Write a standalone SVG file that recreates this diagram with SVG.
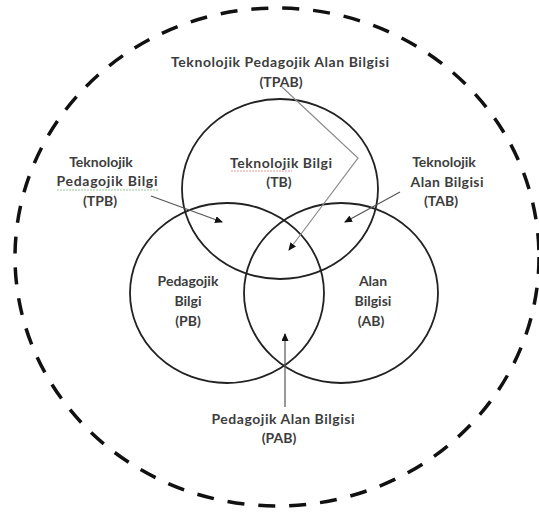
<svg xmlns="http://www.w3.org/2000/svg" width="539" height="512" viewBox="0 0 539 512">
<style>
.bg{fill:#ffffff}
.outer{fill:none;stroke:#111;stroke-width:3.5;stroke-dasharray:17 14}
.c{fill:none;stroke:#222;stroke-width:1.8}
.t{font-family:Lato,"Liberation Sans",sans-serif;font-weight:700;font-size:14px;fill:#3d3d3d;text-anchor:middle}
.a{fill:none;stroke:#555;stroke-width:1.2}
.a2{fill:none;stroke:#8a8a8a;stroke-width:1.2}
</style>
<defs>
<marker id="ah" markerUnits="userSpaceOnUse" markerWidth="8" markerHeight="7" refX="7" refY="3.5" orient="auto"><path d="M0,0 L8,3.5 L0,7 z" fill="#111"/></marker>
</defs>
<rect class="bg" x="0" y="0" width="539" height="512"/>
<g id="outer"><ellipse class="outer" cx="277" cy="257" rx="262" ry="249"/></g>
<g id="tb"><ellipse class="c" cx="280" cy="189" rx="98" ry="90"/>
<text class="t" x="281" y="168" textLength="102" lengthAdjust="spacing">Teknolojik Bilgi</text>
<line x1="231" y1="171" x2="292" y2="171" stroke="#e89a9a" stroke-width="1" stroke-dasharray="2 1"/>
<text class="t" x="279" y="187">(TB)</text></g>
<g id="pb"><ellipse class="c" cx="227" cy="293" rx="97" ry="90"/>
<text class="t" x="188" y="286">Pedagojik</text>
<text class="t" x="188" y="306">Bilgi</text>
<text class="t" x="188" y="326">(PB)</text></g>
<g id="ab"><ellipse class="c" cx="341" cy="293" rx="97" ry="90"/>
<text class="t" x="373" y="286">Alan</text>
<text class="t" x="373" y="306">Bilgisi</text>
<text class="t" x="371" y="326">(AB)</text></g>
<g id="tpab"><text class="t" x="280" y="67" textLength="218" lengthAdjust="spacing">Teknolojik Pedagojik Alan Bilgisi</text>
<text class="t" x="281" y="87">(TPAB)</text></g>
<g id="tpb"><text class="t" x="101" y="167">Teknolojik</text>
<text class="t" x="107" y="186" textLength="101" lengthAdjust="spacing">Pedagojik Bilgi</text>
<line x1="57" y1="190" x2="158" y2="190" stroke="#9ac79a" stroke-width="1" stroke-dasharray="2 1"/>
<text class="t" x="100" y="206">(TPB)</text></g>
<g id="tab"><text class="t" x="444" y="167">Teknolojik</text>
<text class="t" x="447" y="187" textLength="73" lengthAdjust="spacing">Alan Bilgisi</text>
<text class="t" x="441" y="206">(TAB)</text></g>
<g id="pab"><text class="t" x="283" y="424" textLength="143" lengthAdjust="spacing">Pedagojik Alan Bilgisi</text>
<text class="t" x="279" y="443">(PAB)</text></g>
<g id="connectors">
<polyline class="a2" points="282,87 358,158 289,250" marker-end="url(#ah)"/>
<line class="a" x1="151" y1="196" x2="222" y2="222" marker-end="url(#ah)"/>
<line class="a" x1="400" y1="192" x2="345" y2="222" marker-end="url(#ah)"/>
<line class="a" x1="285" y1="407" x2="285" y2="334" marker-end="url(#ah)"/>
</g>
</svg>
